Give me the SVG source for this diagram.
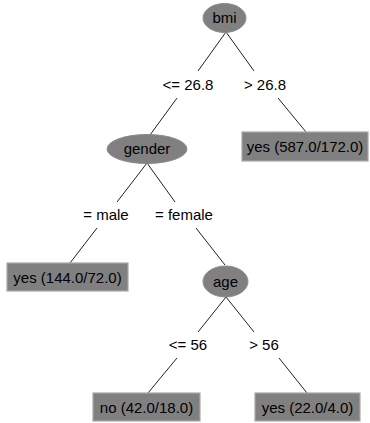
<svg xmlns="http://www.w3.org/2000/svg" width="370" height="423" viewBox="0 0 370 423">
<style>
.bg{fill:#ffffff}
.n{fill:#808080;stroke:#8c8c8c;stroke-width:1}
.leaf{fill:#808080;stroke:#a8a8a8;stroke-width:1.2}
.t{font-family:"Liberation Sans",Arial,sans-serif;font-size:15px;fill:#000;text-anchor:middle}
.e line{stroke:#222;stroke-width:1}
</style>
<rect class="bg" x="0" y="0" width="370" height="423"/>
<g id="connectors" class="e">
<line x1="226" y1="32" x2="198" y2="71"/>
<line x1="177" y1="98" x2="150" y2="135"/>
<line x1="226" y1="32" x2="254" y2="71"/>
<line x1="278" y1="98" x2="306" y2="132"/>
<line x1="147" y1="163" x2="117" y2="202"/>
<line x1="97" y1="228" x2="70" y2="263"/>
<line x1="147" y1="163" x2="175" y2="202"/>
<line x1="196" y1="228" x2="225" y2="265"/>
<line x1="226" y1="297" x2="198" y2="332"/>
<line x1="177" y1="358" x2="148" y2="393"/>
<line x1="226" y1="297" x2="254" y2="332"/>
<line x1="279" y1="358" x2="307" y2="393"/>
<text class="t" x="188" y="90">&lt;= 26.8</text>
<text class="t" x="265" y="90">&gt; 26.8</text>
<text class="t" x="106" y="220">= male</text>
<text class="t" x="184" y="220">= female</text>
<text class="t" x="188" y="350">&lt;= 56</text>
<text class="t" x="264" y="350">&gt; 56</text>
</g>
<g id="bmi">
<ellipse class="n" cx="224.5" cy="18" rx="21.5" ry="14.5"/>
<text class="t" x="224.5" y="23">bmi</text>
</g>
<g id="gender">
<ellipse class="n" cx="147" cy="149" rx="40" ry="14.5"/>
<text class="t" x="147" y="154">gender</text>
</g>
<g id="age">
<ellipse class="n" cx="225.5" cy="281.5" rx="22.5" ry="15.5"/>
<text class="t" x="225.5" y="286.5">age</text>
</g>
<g id="leaf1">
<rect class="leaf" x="242" y="132" width="126" height="29"/>
<text class="t" x="305" y="152">yes (587.0/172.0)</text>
</g>
<g id="leaf2">
<rect class="leaf" x="7" y="263" width="121" height="28"/>
<text class="t" x="67.5" y="283">yes (144.0/72.0)</text>
</g>
<g id="leaf3">
<rect class="leaf" x="93" y="393" width="107" height="28"/>
<text class="t" x="146.5" y="413">no (42.0/18.0)</text>
</g>
<g id="leaf4">
<rect class="leaf" x="255" y="393" width="105" height="28"/>
<text class="t" x="307.5" y="413">yes (22.0/4.0)</text>
</g>
</svg>
